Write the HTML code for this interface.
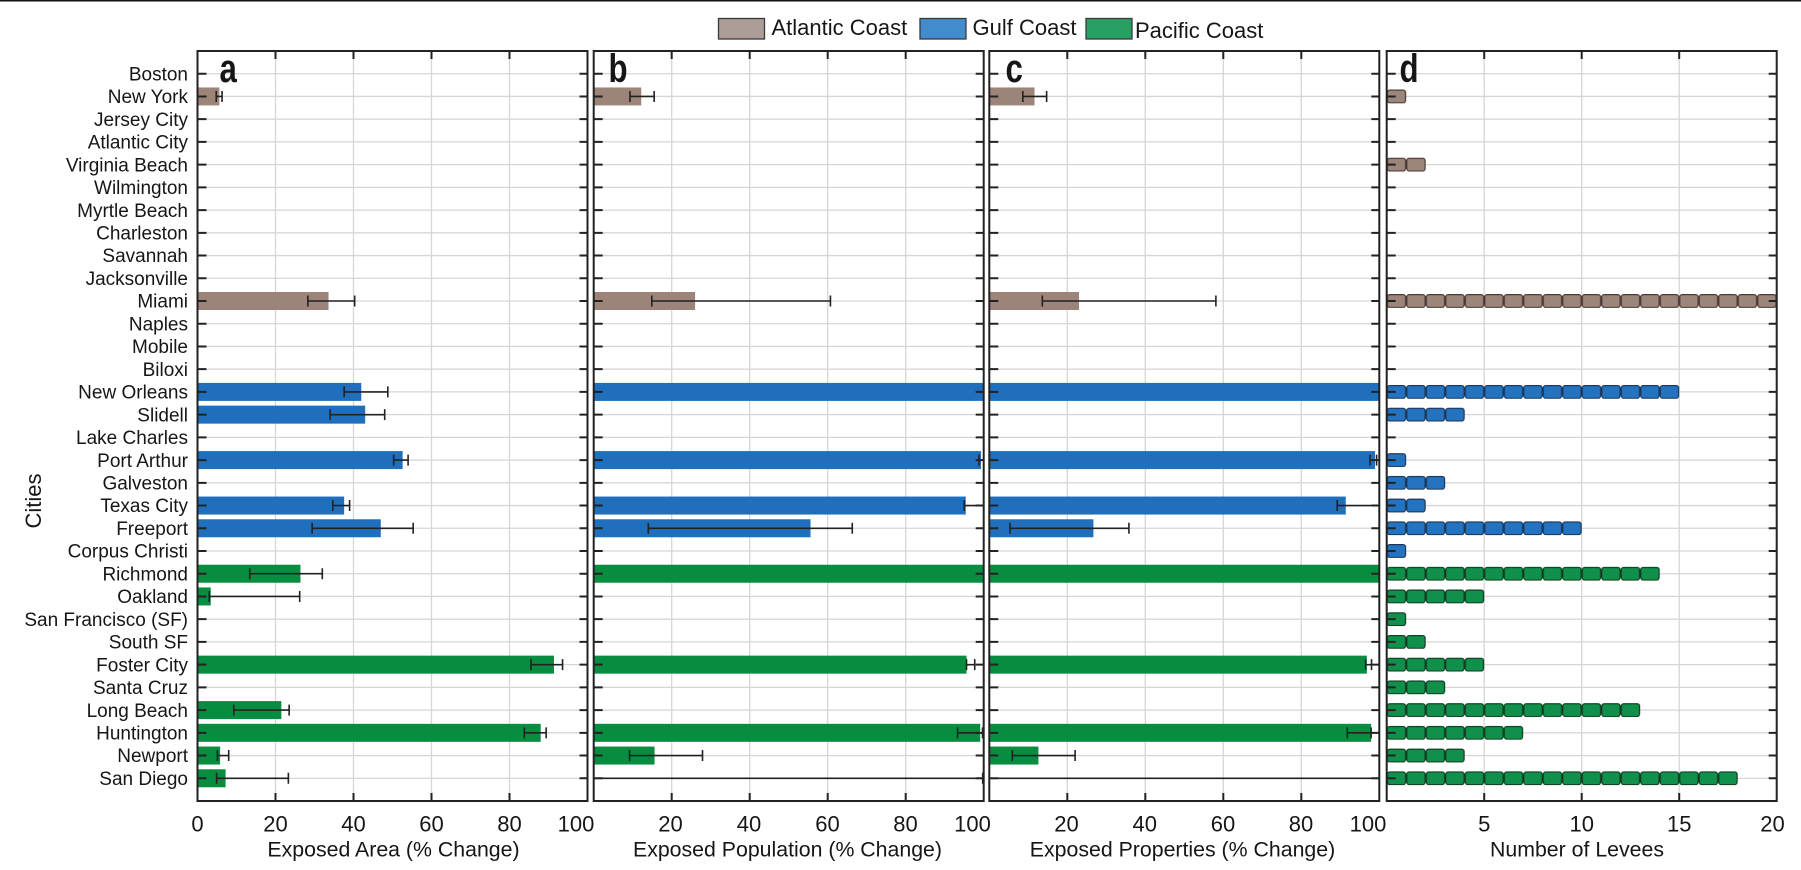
<!DOCTYPE html>
<html><head><meta charset="utf-8"><style>
html,body{margin:0;padding:0;background:#fff;}
svg{display:block;}
text{font-family:"Liberation Sans",Arial,sans-serif;fill:#161616;}
.city{font-size:19px;text-anchor:end;}
.tk{font-size:22px;text-anchor:middle;}
.ttl{font-size:21.3px;text-anchor:middle;}
.lg{font-size:22px;}
.pl{font-size:40px;font-weight:bold;}
</style></head><body>
<svg width="1801" height="870" viewBox="0 0 1801 870" xmlns="http://www.w3.org/2000/svg">
<defs>
<path id="hg" d="M0 73.73h390M0 96.45h390M0 119.18h390M0 141.91h390M0 164.64h390M0 187.36h390M0 210.09h390M0 232.82h390M0 255.55h390M0 278.27h390M0 301h390M0 323.73h390M0 346.45h390M0 369.18h390M0 391.91h390M0 414.64h390M0 437.36h390M0 460.09h390M0 482.82h390M0 505.55h390M0 528.27h390M0 551h390M0 573.73h390M0 596.45h390M0 619.18h390M0 641.91h390M0 664.64h390M0 687.36h390M0 710.09h390M0 732.82h390M0 755.55h390M0 778.27h390" stroke="#d6d6d6" stroke-width="1.3" fill="none"/>
<path id="tk" d="M0 73.73h9M0 96.45h9M0 119.18h9M0 141.91h9M0 164.64h9M0 187.36h9M0 210.09h9M0 232.82h9M0 255.55h9M0 278.27h9M0 301h9M0 323.73h9M0 346.45h9M0 369.18h9M0 391.91h9M0 414.64h9M0 437.36h9M0 460.09h9M0 482.82h9M0 505.55h9M0 528.27h9M0 551h9M0 573.73h9M0 596.45h9M0 619.18h9M0 641.91h9M0 664.64h9M0 687.36h9M0 710.09h9M0 732.82h9M0 755.55h9M0 778.27h9M390 73.73h-8M390 96.45h-8M390 119.18h-8M390 141.91h-8M390 164.64h-8M390 187.36h-8M390 210.09h-8M390 232.82h-8M390 255.55h-8M390 278.27h-8M390 301h-8M390 323.73h-8M390 346.45h-8M390 369.18h-8M390 391.91h-8M390 414.64h-8M390 437.36h-8M390 460.09h-8M390 482.82h-8M390 505.55h-8M390 528.27h-8M390 551h-8M390 573.73h-8M390 596.45h-8M390 619.18h-8M390 641.91h-8M390 664.64h-8M390 687.36h-8M390 710.09h-8M390 732.82h-8M390 755.55h-8M390 778.27h-8" stroke="#222" stroke-width="2" fill="none"/>
<path id="vg100" d="M78 51V801M156 51V801M234 51V801M312 51V801" stroke="#d6d6d6" stroke-width="1.3" fill="none"/>
<path id="vt100" d="M78 51v8M156 51v8M234 51v8M312 51v8M78 801v-8M156 801v-8M234 801v-8M312 801v-8" stroke="#222" stroke-width="2" fill="none"/>
<path id="vg20" d="M97.5 51V801M195 51V801M292.5 51V801" stroke="#d6d6d6" stroke-width="1.3" fill="none"/>
<path id="vt20" d="M97.5 51v8M195 51v8M292.5 51v8M97.5 801v-8M195 801v-8M292.5 801v-8" stroke="#222" stroke-width="2" fill="none"/>
<pattern id="lvA" patternUnits="userSpaceOnUse" x="1386.7" y="44" width="19.5" height="22.7273"><rect x="0.6" y="0.6" width="18.3" height="12.8" rx="2.5" fill="#9c857b" stroke="#4a3a33" stroke-width="1.2"/></pattern>
<pattern id="lvG" patternUnits="userSpaceOnUse" x="1386.7" y="44" width="19.5" height="22.7273"><rect x="0.6" y="0.6" width="18.3" height="12.8" rx="2.5" fill="#2473c0" stroke="#1a3658" stroke-width="1.2"/></pattern>
<pattern id="lvP" patternUnits="userSpaceOnUse" x="1386.7" y="44" width="19.5" height="22.7273"><rect x="0.6" y="0.6" width="18.3" height="12.8" rx="2.5" fill="#10904a" stroke="#0f3d22" stroke-width="1.2"/></pattern>
</defs>

<rect x="0" y="0" width="1801" height="1.5" fill="#111"/>

<!-- Legend -->
<rect x="718.5" y="18.5" width="46" height="20.5" fill="#ac9e96" stroke="#3a3a3a" stroke-width="1.3"/>
<text class="lg" x="771.5" y="35">Atlantic Coast</text>
<rect x="920" y="18.5" width="46" height="20.5" fill="#428ccd" stroke="#3a3a3a" stroke-width="1.3"/>
<text class="lg" x="972.5" y="35">Gulf Coast</text>
<rect x="1086" y="18.5" width="46" height="20.5" fill="#28a064" stroke="#3a3a3a" stroke-width="1.3"/>
<text class="lg" x="1135" y="38">Pacific Coast</text>

<!-- City labels -->
<g>
<text class="city" x="188" y="80.4">Boston</text>
<text class="city" x="188" y="103.2">New York</text>
<text class="city" x="188" y="125.9">Jersey City</text>
<text class="city" x="188" y="148.6">Atlantic City</text>
<text class="city" x="188" y="171.3">Virginia Beach</text>
<text class="city" x="188" y="194.1">Wilmington</text>
<text class="city" x="188" y="216.8">Myrtle Beach</text>
<text class="city" x="188" y="239.5">Charleston</text>
<text class="city" x="188" y="262.2">Savannah</text>
<text class="city" x="188" y="285">Jacksonville</text>
<text class="city" x="188" y="307.7">Miami</text>
<text class="city" x="188" y="330.4">Naples</text>
<text class="city" x="188" y="353.2">Mobile</text>
<text class="city" x="188" y="375.9">Biloxi</text>
<text class="city" x="188" y="398.6">New Orleans</text>
<text class="city" x="188" y="421.3">Slidell</text>
<text class="city" x="188" y="444.1">Lake Charles</text>
<text class="city" x="188" y="466.8">Port Arthur</text>
<text class="city" x="188" y="489.5">Galveston</text>
<text class="city" x="188" y="512.2">Texas City</text>
<text class="city" x="188" y="535">Freeport</text>
<text class="city" x="188" y="557.7">Corpus Christi</text>
<text class="city" x="188" y="580.4">Richmond</text>
<text class="city" x="188" y="603.2">Oakland</text>
<text class="city" x="188" y="625.9">San Francisco (SF)</text>
<text class="city" x="188" y="648.6">South SF</text>
<text class="city" x="188" y="671.3">Foster City</text>
<text class="city" x="188" y="694.1">Santa Cruz</text>
<text class="city" x="188" y="716.8">Long Beach</text>
<text class="city" x="188" y="739.5">Huntington</text>
<text class="city" x="188" y="762.2">Newport</text>
<text class="city" x="188" y="785">San Diego</text>
</g>
<text x="41" y="501" text-anchor="middle" transform="rotate(-90 41 501)" style="font-size:22px">Cities</text>

<!-- ===== Panel a ===== -->
<g transform="translate(197.5,0)"><use href="#vg100"/><use href="#hg"/></g>
<g fill="#9d8479">
<rect x="197.5" y="87.45" width="21.84" height="18"/>
<rect x="197.5" y="292" width="131.04" height="18"/>
</g>
<g fill="#1f6fbd">
<rect x="197.5" y="382.91" width="163.8" height="18"/>
<rect x="197.5" y="405.64" width="167.7" height="18"/>
<rect x="197.5" y="451.09" width="205.14" height="18"/>
<rect x="197.5" y="496.55" width="146.64" height="18"/>
<rect x="197.5" y="519.27" width="183.3" height="18"/>
</g>
<g fill="#078c40">
<rect x="197.5" y="564.73" width="102.96" height="18"/>
<rect x="197.5" y="587.45" width="13.26" height="18"/>
<rect x="197.5" y="655.64" width="356.46" height="18"/>
<rect x="197.5" y="701.09" width="83.85" height="18"/>
<rect x="197.5" y="723.82" width="343.2" height="18"/>
<rect x="197.5" y="746.55" width="22.62" height="18"/>
<rect x="197.5" y="769.27" width="28.08" height="18"/>
</g>
<path stroke="#222" stroke-width="1.6" fill="none" d="
M216.22 96.45H222.07M216.22 90.95v11M222.07 90.95v11
M307.87 301H354.67M307.87 295.5v11M354.67 295.5v11
M344.14 391.91H387.82M344.14 386.41v11M387.82 386.41v11
M330.1 414.64H384.7M330.1 409.14v11M384.7 409.14v11
M393.67 460.09H408.1M393.67 454.59v11M408.1 454.59v11
M332.83 505.55H349.6M332.83 500.05v11M349.6 500.05v11
M312.16 528.27H413.17M312.16 522.77v11M413.17 522.77v11
M249.76 573.73H322.3M249.76 568.23v11M322.3 568.23v11
M209.2 596.45H299.68M209.2 590.95v11M299.68 590.95v11
M530.95 664.64H562.54M530.95 659.14v11M562.54 659.14v11
M233.77 710.09H289.15M233.77 704.59v11M289.15 704.59v11
M524.32 732.82H546.16M524.32 727.32v11M546.16 727.32v11
M217.39 755.55H228.7M217.39 750.05v11M228.7 750.05v11
M216.61 778.27H288.37M216.61 772.77v11M288.37 772.77v11"/>
<g transform="translate(197.5,0)"><use href="#tk"/><use href="#vt100"/></g>
<rect x="197.5" y="51" width="390" height="750" fill="none" stroke="#222" stroke-width="2"/>

<!-- ===== Panel b ===== -->
<g transform="translate(593.7,0)"><use href="#vg100"/><use href="#hg"/></g>
<g fill="#9d8479">
<rect x="593.7" y="87.45" width="47.58" height="18"/>
<rect x="593.7" y="292" width="101.4" height="18"/>
</g>
<g fill="#1f6fbd">
<rect x="593.7" y="382.91" width="390" height="18"/>
<rect x="593.7" y="451.09" width="387.27" height="18"/>
<rect x="593.7" y="496.55" width="372.06" height="18"/>
<rect x="593.7" y="519.27" width="216.84" height="18"/>
</g>
<g fill="#078c40">
<rect x="593.7" y="564.73" width="390" height="18"/>
<rect x="593.7" y="655.64" width="372.84" height="18"/>
<rect x="593.7" y="723.82" width="386.49" height="18"/>
<rect x="593.7" y="746.55" width="60.84" height="18"/>
</g>
<path stroke="#222" stroke-width="1.6" fill="none" d="
M629.97 96.45H654.15M629.97 90.95v11M654.15 90.95v11
M651.81 301H830.43M651.81 295.5v11M830.43 295.5v11
M979.02 460.09H983.7M979.02 454.59v11
M964.2 505.55H983.7M964.2 500.05v11
M648.3 528.27H852.27M648.3 522.77v11M852.27 522.77v11
M966.54 664.64H974.73M966.54 659.14v11M974.73 659.14v11
M957.57 732.82H982.53M957.57 727.32v11M982.53 727.32v11
M629.58 755.55H702.51M629.58 750.05v11M702.51 750.05v11
M593.7 778.27H983.7M982.7 772.77v11"/>
<g transform="translate(593.7,0)"><use href="#tk"/><use href="#vt100"/></g>
<rect x="593.7" y="51" width="390" height="750" fill="none" stroke="#222" stroke-width="2"/>

<!-- ===== Panel c ===== -->
<g transform="translate(989.3,0)"><use href="#vg100"/><use href="#hg"/></g>
<g fill="#9d8479">
<rect x="989.3" y="87.45" width="45.24" height="18"/>
<rect x="989.3" y="292" width="89.7" height="18"/>
</g>
<g fill="#1f6fbd">
<rect x="989.3" y="382.91" width="390" height="18"/>
<rect x="989.3" y="451.09" width="385.71" height="18"/>
<rect x="989.3" y="496.55" width="356.46" height="18"/>
<rect x="989.3" y="519.27" width="104.13" height="18"/>
</g>
<g fill="#078c40">
<rect x="989.3" y="564.73" width="390" height="18"/>
<rect x="989.3" y="655.64" width="377.52" height="18"/>
<rect x="989.3" y="723.82" width="381.81" height="18"/>
<rect x="989.3" y="746.55" width="49.14" height="18"/>
</g>
<path stroke="#222" stroke-width="1.6" fill="none" d="
M1022.84 96.45H1046.63M1022.84 90.95v11M1046.63 90.95v11
M1042.34 301H1215.89M1042.34 295.5v11M1215.89 295.5v11
M1369.94 460.09H1376.57M1369.94 454.59v11M1376.57 454.59v11
M1337.18 505.55H1379.3M1337.18 500.05v11
M1009.97 528.27H1128.92M1009.97 522.77v11M1128.92 522.77v11
M1365.65 664.64H1371.5M1365.65 659.14v11M1371.5 659.14v11
M1347.32 732.82H1371.11M1347.32 727.32v11M1371.11 727.32v11
M1012.31 755.55H1075.1M1012.31 750.05v11M1075.1 750.05v11
M989.3 778.27H1379.3"/>
<g transform="translate(989.3,0)"><use href="#tk"/><use href="#vt100"/></g>
<rect x="989.3" y="51" width="390" height="750" fill="none" stroke="#222" stroke-width="2"/>

<!-- ===== Panel d ===== -->
<g transform="translate(1386.7,0)"><use href="#vg20"/><use href="#hg"/></g>
<rect x="1386.7" y="89.45" width="19.5" height="14" fill="url(#lvA)"/>
<rect x="1386.7" y="157.64" width="39" height="14" fill="url(#lvA)"/>
<rect x="1386.7" y="294" width="390" height="14" fill="url(#lvA)"/>
<rect x="1386.7" y="384.91" width="292.5" height="14" fill="url(#lvG)"/>
<rect x="1386.7" y="407.64" width="78" height="14" fill="url(#lvG)"/>
<rect x="1386.7" y="453.09" width="19.5" height="14" fill="url(#lvG)"/>
<rect x="1386.7" y="475.82" width="58.5" height="14" fill="url(#lvG)"/>
<rect x="1386.7" y="498.55" width="39" height="14" fill="url(#lvG)"/>
<rect x="1386.7" y="521.27" width="195" height="14" fill="url(#lvG)"/>
<rect x="1386.7" y="544" width="19.5" height="14" fill="url(#lvG)"/>
<rect x="1386.7" y="566.73" width="273" height="14" fill="url(#lvP)"/>
<rect x="1386.7" y="589.45" width="97.5" height="14" fill="url(#lvP)"/>
<rect x="1386.7" y="612.18" width="19.5" height="14" fill="url(#lvP)"/>
<rect x="1386.7" y="634.91" width="39" height="14" fill="url(#lvP)"/>
<rect x="1386.7" y="657.64" width="97.5" height="14" fill="url(#lvP)"/>
<rect x="1386.7" y="680.36" width="58.5" height="14" fill="url(#lvP)"/>
<rect x="1386.7" y="703.09" width="253.5" height="14" fill="url(#lvP)"/>
<rect x="1386.7" y="725.82" width="136.5" height="14" fill="url(#lvP)"/>
<rect x="1386.7" y="748.55" width="78" height="14" fill="url(#lvP)"/>
<rect x="1386.7" y="771.27" width="351" height="14" fill="url(#lvP)"/>
<g transform="translate(1386.7,0)"><use href="#tk"/><use href="#vt20"/></g>
<rect x="1386.7" y="51" width="390" height="750" fill="none" stroke="#222" stroke-width="2"/>

<!-- Panel letters -->
<text class="pl" transform="translate(219.5,82) scale(0.78,1)">a</text>
<text class="pl" transform="translate(608.5,82) scale(0.78,1)">b</text>
<text class="pl" transform="translate(1005.5,82) scale(0.78,1)">c</text>
<text class="pl" transform="translate(1399.5,82) scale(0.78,1)">d</text>

<!-- Tick labels -->
<text class="tk" x="197.5" y="831.5">0</text>
<text class="tk" x="275.5" y="831.5">20</text>
<text class="tk" x="353.5" y="831.5">40</text>
<text class="tk" x="431.5" y="831.5">60</text>
<text class="tk" x="509.5" y="831.5">80</text>
<text class="tk" x="576" y="831.5">100</text>

<text class="tk" x="670.5" y="831.5">20</text>
<text class="tk" x="749" y="831.5">40</text>
<text class="tk" x="827.5" y="831.5">60</text>
<text class="tk" x="905.5" y="831.5">80</text>
<text class="tk" x="972.5" y="831.5">100</text>

<text class="tk" x="1066.5" y="831.5">20</text>
<text class="tk" x="1144.8" y="831.5">40</text>
<text class="tk" x="1223" y="831.5">60</text>
<text class="tk" x="1301" y="831.5">80</text>
<text class="tk" x="1368" y="831.5">100</text>

<text class="tk" x="1484.2" y="831.5">5</text>
<text class="tk" x="1581.7" y="831.5">10</text>
<text class="tk" x="1679.2" y="831.5">15</text>
<text class="tk" x="1772.5" y="831.5">20</text>

<!-- Axis titles -->
<text class="ttl" x="393.5" y="856.5">Exposed Area (% Change)</text>
<text class="ttl" x="787.5" y="856.5">Exposed Population (% Change)</text>
<text class="ttl" x="1182.5" y="856.5">Exposed Properties (% Change)</text>
<text class="ttl" x="1577" y="856.5">Number of Levees</text>
</svg>
</body></html>
